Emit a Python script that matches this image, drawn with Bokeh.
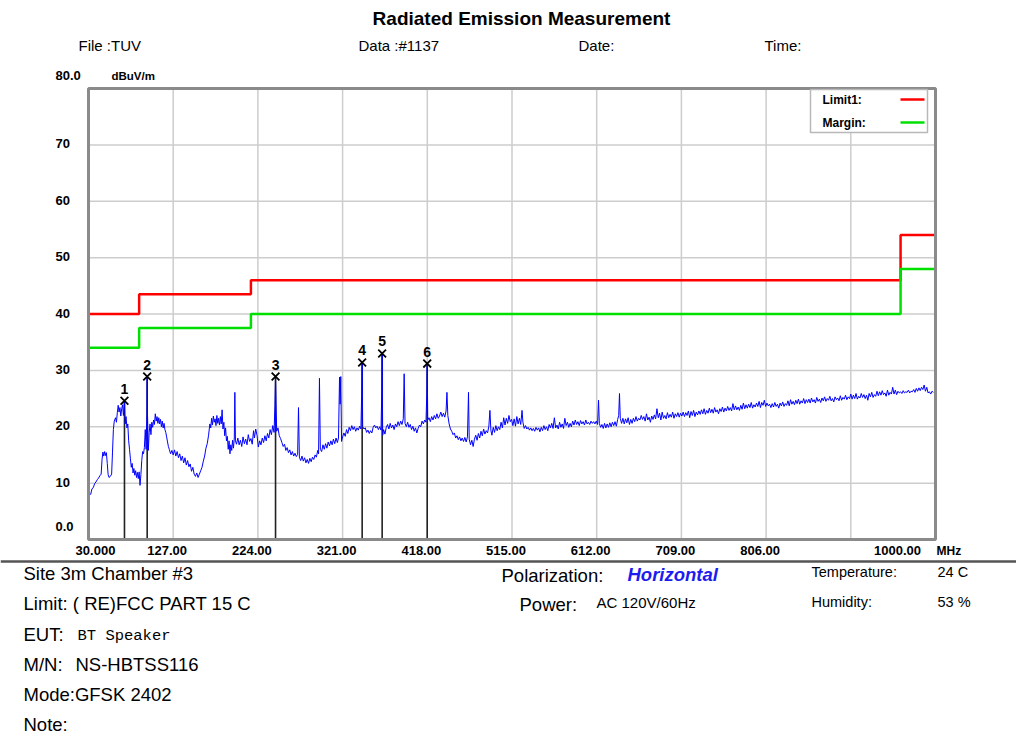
from bokeh.plotting import figure
from bokeh.models import Label, Range1d
from bokeh.core.properties import value
from bokeh.embed import file_html
from bokeh.resources import INLINE

# ---------------- data (MHz, dBuV/m) ----------------
seg_a = [(30, 7.4), (31, 8.2), (32.5, 8.0), (34, 9.0), (35.5, 9.2), (37, 9.9), (38.5, 10.2), (40, 10.6),
         (41.5, 10.9), (43, 11.3), (44.5, 11.6), (45.5, 14.2), (46.5, 15.5), (47.5, 14.8), (48.5, 15.6),
         (49.5, 14.9), (50.5, 15.4), (51.5, 13.5), (52.5, 11.5), (53.5, 11.0), (55, 11.2), (56.5, 11.6),
         (57.5, 15.5), (58.5, 19.5), (59.5, 21.0), (61, 21.6), (62, 20.8), (63, 22.5), (64, 23.8), (65, 22.6),
         (66, 23.4), (67, 21.9), (68, 23.2), (69, 23.9), (70, 22.0), (71.2, 24.6), (72, 20.5), (73, 21.8),
         (74, 19.8), (75, 20.5), (76, 17.5), (77, 16.0), (78, 14.3), (79, 12.8), (80, 13.5), (81, 11.8),
         (82, 12.6), (83, 11.4), (84, 12.2), (85, 11.0), (86, 11.9), (87, 10.8), (88, 12.0), (89, 9.6),
         (90, 11.5), (91, 14.0), (92, 15.6), (93, 15.2), (94, 16.3), (95, 19.5), (96, 16.0), (96.8, 22.2),
         (97.2, 28.9), (97.6, 22.0), (98.5, 15.8), (99.5, 19.0)]

seg_b = [(100.5, 20.5), (101.5, 18.6), (102.5, 20.8), (103.5, 19.9), (104.5, 21.2), (105.5, 20.4), (106.5, 22.3),
         (107.5, 21.0), (108.5, 21.8), (109.5, 20.6), (110.5, 21.6), (111.5, 20.5), (112.5, 21.3), (113.5, 20.0),
         (114.5, 21.0), (115.5, 19.8), (116.5, 20.6), (117.5, 19.5), (118.5, 19.0), (119.5, 18.2), (120.5, 17.3),
         (121.5, 16.5), (122.5, 16.0), (124, 15.2), (125.5, 15.8), (127, 15.0), (128.5, 15.9), (130, 14.8),
         (131.5, 15.6), (133, 14.5), (134.5, 15.2), (136, 14.0), (137.5, 14.8), (139, 13.6), (140.5, 14.5),
         (142, 13.2), (143.5, 14.0), (145, 12.9), (146.5, 13.4), (148, 12.1), (149.5, 12.8), (151, 11.6),
         (152.5, 11.2), (154, 11.8), (155.5, 11.0), (157, 11.6), (158.5, 12.2), (160, 12.8), (161.5, 13.9),
         (163, 14.8), (164.5, 16.2), (166, 17.0), (167.5, 18.5), (169, 20.5), (170, 19.8), (171, 21.5),
         (172, 20.3), (173, 21.9), (174, 20.8), (175, 21.4), (176, 20.2), (177, 22.0), (178, 20.6), (179, 21.5),
         (180, 20.3), (181, 21.8), (182, 20.5), (183, 23.0), (184, 19.6), (185, 20.8), (186, 18.4), (187, 19.8),
         (188, 17.5), (189, 18.3), (190, 16.0), (191, 17.5), (192, 15.2), (193, 16.8), (194, 15.8), (195, 17.6),
         (196, 16.2), (197, 18.0), (197.6, 26.1), (198.3, 17.5), (199.5, 16.9), (201, 18.0), (202.5, 16.8),
         (204, 17.6), (205.5, 16.5), (207, 18.2), (208.5, 17.0), (210, 17.8), (211.5, 16.8), (213, 18.6),
         (214.5, 17.4), (216, 17.9), (217.5, 16.9), (219, 19.3), (220, 18.0), (221.5, 19.6), (223, 18.5),
         (224.5, 16.4), (226, 17.5), (227.5, 16.8), (229, 18.0)]

seg_c = [(230.5, 17.2), (232, 18.4), (233.5, 17.5), (235, 18.8), (236.5, 18.0), (238, 19.5), (239.5, 18.6),
         (241, 20.2), (242.5, 19.0), (243.5, 23.8), (244.2, 28.9), (244.8, 24.2), (245.5, 19.2), (247, 19.8),
         (248.5, 18.4), (250, 17.9), (251.5, 17.2), (253, 16.5), (254.5, 16.9), (256, 15.8), (257.5, 16.3),
         (259, 15.4), (260.5, 15.9), (262, 15.0), (263.5, 15.6), (265, 14.8), (266.5, 15.3), (268, 14.7),
         (269.5, 15.1), (270.5, 23.4), (271.5, 14.6), (273, 14.0), (274.5, 14.8), (276, 13.9), (277.5, 14.5),
         (279, 13.6), (280.5, 14.2), (282, 13.5), (283.5, 14.4), (285, 13.8), (286.5, 14.6), (288, 14.2),
         (289.5, 15.0), (291, 14.6), (292.5, 15.8), (293.5, 15.2), (294.5, 28.6), (295.5, 16.0), (297, 15.6),
         (298.5, 16.8), (300, 16.0), (301.5, 17.0), (303, 16.2), (304.5, 17.3), (306, 16.6), (307.5, 17.5),
         (309, 16.8), (310.5, 17.8), (312, 17.0), (313.5, 18.0), (315, 17.2), (316.3, 18.0), (317.5, 28.8),
         (318.2, 24.0), (318.9, 28.9), (319.8, 17.4), (321, 18.2), (322.5, 18.9), (324, 18.3), (325.5, 19.5),
         (327, 18.8), (328.5, 19.9), (330, 19.3), (331.5, 20.2), (333, 19.5), (334.5, 20.0), (336, 19.2),
         (337.5, 19.8), (339, 19.4), (340.5, 20.1), (342, 19.6), (342.8, 25.5), (343.4, 31.4), (344, 20.0),
         (345.5, 19.6), (347, 19.8), (348.5, 19.0), (350, 19.4), (351.5, 18.8), (353, 19.3), (354.5, 18.9),
         (356, 19.9), (357.5, 20.3), (359, 19.8), (360.5, 20.1), (362, 19.5), (363.5, 20.0), (365, 19.4),
         (365.8, 25.8), (366.3, 33.0), (366.9, 18.5), (368, 19.5), (369.5, 18.7), (371, 19.9), (372.5, 20.4),
         (374, 19.6), (375.5, 20.6), (377, 19.8), (378.5, 20.3), (380, 19.5), (381.5, 20.5), (383, 20.0),
         (384.5, 20.9), (386, 20.2), (387.5, 21.0), (389, 20.4), (390.5, 21.4), (391.5, 29.4), (392.5, 20.6),
         (394, 20.0), (395.5, 20.8), (397, 19.9), (398.5, 20.4), (400, 19.5), (401.5, 20.1), (403, 19.2),
         (404.5, 19.8), (406, 18.9), (407.5, 19.7), (409, 20.3), (410.5, 20.0), (412, 21.0), (413.5, 20.5),
         (415, 21.2), (416.5, 20.8), (417.4, 25.8), (417.9, 31.2), (418.5, 21.2), (420, 21.6), (421.5, 20.9),
         (423, 21.8), (424.5, 21.2), (426, 22.0), (427.5, 21.4), (429, 22.3), (430.5, 21.5)]

seg_d = [(432, 21.9), (433.5, 22.6), (435, 21.8), (436.5, 22.4), (438, 21.7), (439.5, 22.8), (440.5, 26.1),
         (441.5, 22.0), (443, 20.5), (444.5, 19.6), (446, 19.2), (447.5, 18.6), (449, 18.9), (450.5, 18.0),
         (452, 18.4), (453.5, 17.7), (455, 18.2), (456.5, 17.5), (458, 18.0), (459.5, 17.4), (461, 18.1),
         (462.5, 17.3), (464, 18.2), (465.2, 26.1), (466, 17.8), (467.5, 16.8), (469, 17.6), (470.5, 16.5),
         (472, 17.8), (473.5, 18.5), (475, 17.6), (476.5, 18.8), (478, 18.0), (479.5, 19.2), (481, 18.4),
         (482.5, 19.6), (484, 18.7), (485.5, 19.3), (487, 18.9), (488.5, 20.1), (489.7, 22.9), (490.8, 19.4),
         (492, 18.5), (493.5, 19.9), (495, 19.0), (496.5, 20.2), (498, 19.3), (499.5, 20.0), (501, 19.5),
         (502.5, 20.8), (504, 19.8), (505.5, 21.6), (507, 20.3), (508.5, 21.5), (510, 20.6), (511.5, 22.0),
         (513, 20.9), (514.5, 21.3), (516, 20.2), (517.5, 21.4), (519, 20.1), (520.5, 21.8), (522, 20.5),
         (523.5, 21.5), (525, 20.4), (526.5, 22.9), (527.5, 20.8), (529, 19.7), (530.5, 20.2), (532, 19.6),
         (533.5, 19.9), (535, 19.4), (536.5, 19.8), (538, 19.3), (539.5, 19.7), (541, 19.2), (542.5, 19.9),
         (544, 19.4), (545.5, 19.8), (547, 19.1), (548.5, 19.9), (550, 19.3), (551.5, 20.2), (553, 19.5),
         (554.5, 20.0), (556, 19.3), (557.5, 20.4), (559, 19.8), (560.5, 20.6), (562, 19.7), (563.5, 21.6),
         (565, 19.8), (566.5, 20.3), (568, 19.6), (569.5, 20.8), (571, 19.9), (572.5, 20.5), (574, 19.7),
         (575.5, 21.5), (577, 20.2), (578.5, 20.8), (580, 19.9), (581.5, 20.6), (583, 20.0), (584.5, 21.0),
         (586, 20.3), (587.5, 21.2), (589, 20.4), (590.5, 20.9), (592, 20.2), (593.5, 21.1), (595, 20.5),
         (596.5, 20.9), (598, 20.3), (599.5, 21.2), (601, 20.5), (602.5, 20.8), (604, 20.4), (605.5, 21.0),
         (607, 20.6), (608.5, 20.9), (610, 20.5)]

seg_e = [(611.5, 21.0), (613, 20.4), (614.1, 24.7), (615, 20.6), (616.5, 19.9), (618, 20.4), (619.5, 19.7),
         (621, 20.6), (622.5, 19.8), (624, 20.5), (625.5, 19.9), (627, 20.7), (628.5, 20.0), (630, 20.8),
         (631.5, 20.2), (633, 20.9), (634.5, 20.1), (636, 21.3), (637.2, 22.0), (638.1, 25.9), (639, 21.5),
         (640.5, 20.6), (642, 21.5), (643.5, 20.5), (645, 21.4), (646.5, 20.7), (648, 21.6), (649.5, 20.4),
         (651, 21.3), (652.5, 20.6), (654, 21.5), (655.5, 20.9), (657, 21.8), (658.5, 21.0), (660, 21.5),
         (661.5, 21.2), (663, 22.0), (664.5, 21.3), (666, 21.8), (667.5, 21.0), (669, 22.3), (670.5, 21.2),
         (672, 21.7), (673.5, 20.8), (675, 21.9), (676.5, 21.3), (678, 22.1), (679.5, 21.4), (681, 23.2),
         (682.5, 21.6), (684, 22.4), (685.5, 21.2), (687, 22.6), (688.5, 21.5), (690, 22.0), (691.5, 21.4),
         (693, 22.5), (694.5, 21.6), (696, 22.2), (697.5, 21.7), (699, 22.6), (700.5, 21.5), (702, 22.3),
         (703.5, 21.8), (705, 22.5), (706.5, 21.7), (708, 22.4), (709.5, 21.9), (711, 22.6), (712.5, 21.8),
         (714, 22.5), (715.5, 22.0), (717, 22.8), (718.5, 21.6), (720, 22.7), (721.5, 22.0), (723, 22.9),
         (724.5, 21.8), (726, 22.6), (727.5, 22.1), (729, 22.8), (730.5, 22.2), (732, 23.0), (733.5, 22.3),
         (735, 23.2), (736.5, 22.2), (738, 22.9), (739.5, 22.4), (741, 23.3), (742.5, 22.5), (744, 23.1),
         (745.5, 22.4), (747, 23.4), (748.5, 22.6), (750, 23.0), (751.5, 22.3), (753, 23.2), (754.5, 22.7),
         (756, 23.5), (757.5, 22.6), (759, 23.3), (760.5, 22.8), (762, 23.6), (763.5, 22.9), (765, 23.4),
         (766.5, 22.8), (768, 24.1), (769.5, 23.0), (771, 23.7), (772.5, 23.0), (774, 23.5), (775.5, 22.9),
         (777, 23.8), (778.5, 23.1), (780, 24.2), (781.5, 23.2), (783, 23.9), (784.5, 23.3), (786, 24.0),
         (787.5, 23.4), (789, 24.3), (790.5, 23.3), (792, 23.9), (793.5, 23.5), (795, 24.2), (796.5, 23.6),
         (798, 24.5), (799.5, 23.4), (801, 24.3), (802.5, 23.8), (804, 24.7), (805.5, 23.6), (807, 24.2),
         (808.5, 23.7), (810, 24.0), (811.5, 23.4), (813, 24.1), (814.5, 23.5), (816, 24.3), (817.5, 23.6),
         (819, 24.0), (820.5, 23.3), (822, 24.2), (823.5, 23.7), (825, 24.4), (826.5, 23.6), (828, 24.1),
         (829.5, 23.8), (831, 24.6), (832.5, 23.7), (834, 24.8), (835.5, 24.0), (837, 24.5), (838.5, 23.9),
         (840, 24.7), (841.5, 24.1), (843, 24.9), (844.5, 24.0), (846, 24.6), (847.5, 24.2), (849, 25.0),
         (850.5, 24.1), (852, 24.8), (853.5, 24.3), (855, 24.9), (856.5, 24.2), (858, 25.1), (859.5, 24.4),
         (861, 24.8), (862.5, 24.2), (864, 25.2), (865.5, 24.5), (867, 24.9), (868.5, 24.3), (870, 25.1),
         (871.5, 24.6), (873, 25.3), (874.5, 24.5), (876, 25.0), (877.5, 24.7), (879, 25.4), (880.5, 24.6),
         (882, 25.0), (883.5, 24.4), (885, 25.3), (886.5, 24.8), (888, 25.1), (889.5, 24.6), (891, 25.5),
         (892.5, 24.7), (894, 25.2), (895.5, 24.9), (897, 25.6), (898.5, 24.8), (900, 25.3), (901.5, 25.0),
         (903, 25.8), (904.5, 24.9), (906, 25.6), (907.5, 25.0), (909, 25.9), (910.5, 24.9), (912, 25.4),
         (913.5, 25.1), (915, 25.9), (916.5, 25.2), (918, 25.7), (919.5, 25.0), (921, 25.6), (922.5, 24.7),
         (924, 25.9), (925.5, 25.3), (927, 26.1), (928.5, 25.2), (930, 25.7), (931.5, 25.4), (933, 26.3),
         (934.5, 25.5), (936, 26.2), (937.5, 25.6), (939, 26.4), (940.5, 25.7), (942, 26.0), (943.5, 25.4),
         (945, 26.5), (946.5, 25.6), (948, 26.1), (949.5, 25.8), (951, 27.0), (952.5, 25.8), (954, 26.5),
         (955.5, 25.7), (957, 26.3), (958.5, 26.0), (960, 26.2), (961.5, 25.9), (963, 26.4), (964.5, 26.0),
         (966, 26.2), (967.5, 26.1), (969, 26.5), (970.5, 26.0), (972, 26.3), (973.5, 26.2), (975, 26.6),
         (976.5, 26.1), (978, 26.8), (979.5, 26.3), (981, 26.9), (982.5, 26.4), (984, 27.0), (985.5, 26.6),
         (987, 27.4), (988.5, 26.3), (990, 27.0), (991.5, 26.0), (993, 26.2), (994.5, 25.8), (996, 26.3),
         (997.5, 26.1)]

limit_freq = [30, 88, 216, 960, 1000]
limit_level = [40, 43.5, 46, 54, 54]
margin_level = [34, 37.5, 40, 48, 48]

marker_freq = [71.2, 97.2, 244.2, 343.4, 366.3, 417.9]
marker_level = [24.6, 28.9, 28.9, 31.4, 33.0, 31.2]
marker_names = ["1", "2", "3", "4", "5", "6"]

xtick_values = [30, 127, 224, 321, 418, 515, 612, 709, 806, 1000]
xtick_labels = ["30.000", "127.00", "224.00", "321.00", "418.00", "515.00", "612.00", "709.00", "806.00", "1000.00"]
xgrid_values = [127, 224, 321, 418, 515, 612, 709, 806, 903]
ytick_values = [0, 10, 20, 30, 40, 50, 60, 70, 80]
ytick_labels = ["0.0", "10", "20", "30", "40", "50", "60", "70", "80.0"]

spectrum = seg_a + seg_b + seg_c + seg_d + seg_e
freq = [f for f, _ in spectrum]
level = [v for _, v in spectrum]

# ---------------- layout ----------------
W, H = 1016, 735
X0, X1, Y0, Y1 = 30, 1000, 0, 80
FONT = "Liberation Sans"

# page canvas in pixel units (y downward); the chart lives in a sub-coordinate system
p = figure(width=W, height=H, x_range=Range1d(0, W), y_range=Range1d(H, 0),
           x_axis_type=None, y_axis_type=None, toolbar_location=None,
           output_backend="svg", min_border=0)
p.outline_line_color = None
p.background_fill_color = "white"
p.border_fill_color = "white"
p.xgrid.visible = False
p.ygrid.visible = False

c = p.subplot(x_source=Range1d(X0, X1), y_source=Range1d(Y0, Y1),
              x_target=Range1d(88, 935), y_target=Range1d(539, 88))

# grid
c.segment(x0=xgrid_values, x1=xgrid_values, y0=[Y0] * len(xgrid_values), y1=[Y1] * len(xgrid_values),
          line_color="#cdcdcd", line_width=1.5)
yg = ytick_values[1:-1]
c.segment(x0=[X0] * len(yg), x1=[X1] * len(yg), y0=yg, y1=yg, line_color="#cdcdcd", line_width=1.5)

# limit lines
c.step(limit_freq, limit_level, mode="after", line_color="#ff0000", line_width=2.5)
c.step(limit_freq, margin_level, mode="after", line_color="#00e000", line_width=2.5)

# marker drop lines
c.segment(x0=marker_freq, y0=[Y0] * len(marker_freq), x1=marker_freq, y1=marker_level,
          line_color="#222222", line_width=1.6)

# spectrum
c.line(freq, level, line_color="#0000ff", line_width=1)

# markers
c.scatter(marker_freq, marker_level, marker="x", size=11, line_color="black", line_width=1.8)
c.text(x=marker_freq, y=marker_level, text=marker_names, y_offset=-12, text_align="center",
       text_baseline="middle", text_font=value(FONT), text_font_size="14px",
       text_font_style="bold", text_color="black")

# frame
c.quad(left=[X0], right=[X1], bottom=[Y0], top=[Y1], fill_alpha=0, line_color="#8a8a8a", line_width=3)

# tick labels
xoff = [7 if v == X0 else (-38 if v == X1 else -6) for v in xtick_values]
c.text(x=xtick_values, y=[Y0] * len(xtick_values), text=xtick_labels, x_offset=xoff, y_offset=11,
       text_align="center", text_baseline="middle", text_font=value(FONT), text_font_size="13px",
       text_font_style="bold", text_color="black")
yoff = [-13 if v in (Y0, Y1) else -1 for v in ytick_values]
c.text(x=[X0] * len(ytick_values), y=ytick_values, text=ytick_labels, x_offset=-33, y_offset=yoff,
       text_align="left", text_baseline="middle", text_font=value(FONT), text_font_size="13px",
       text_font_style="bold", text_color="black")
c.text(x=[X0], y=[Y1], text=["dBuV/m"], x_offset=23, y_offset=-13, text_align="left",
       text_baseline="middle", text_font=value(FONT), text_font_size="11.5px",
       text_font_style="bold", text_color="black")
c.text(x=[X1], y=[Y0], text=["MHz"], x_offset=1, y_offset=11, text_align="left",
       text_baseline="middle", text_font=value(FONT), text_font_size="12px",
       text_font_style="bold", text_color="black")

# legend
p.quad(left=[810], right=[927], top=[89], bottom=[132], fill_color="white",
       line_color="#b8b8b8", line_width=1.5)
p.segment(x0=[900, 900], x1=[924, 924], y0=[99, 122], y1=[99, 122],
          line_color=["#ff0000", "#00e000"], line_width=2.5)


def lab(text, x, y, size, style="normal", color="black", font=FONT, align="left"):
    p.add_layout(Label(x=x, y=y, text=text, text_font=font, text_font_size=f"{size}px",
                       text_font_style=style, text_color=color, text_align=align,
                       text_baseline="middle"))


lab("Limit1:", 822, 99, 12, "bold")
lab("Margin:", 822, 122, 12, "bold")

# header
lab("Radiated Emission Measurement", 521, 18, 19, "bold", align="center")
lab("File :TUV", 78, 45, 15)
lab("Data :#1137", 358, 45, 15)
lab("Date:", 578, 45, 15)
lab("Time:", 764, 45, 15)

# separator
p.segment(x0=[0], x1=[W], y0=[561], y1=[561], line_color="#555555", line_width=2.5)

# footer info
lab("Site  3m Chamber #3", 23, 573, 18.5)
lab("Limit: ( RE)FCC PART 15 C", 23, 603, 18.5)
lab("EUT:", 23, 634, 18.5)
lab("BT Speaker", 77, 635, 15.5, font="Liberation Mono")
lab("M/N:", 23, 664, 18.5)
lab("NS-HBTSS116", 75, 664, 18.5)
lab("Mode:GFSK 2402", 23, 694, 18.5)
lab("Note:", 23, 724, 18.5)

lab("Polarization:", 501, 575, 18.5)
lab("Horizontal", 627, 574, 18.5, "bold italic", color="#1c1cf0")
lab("Power:", 519, 604, 18.5)
lab("AC 120V/60Hz", 596, 602, 15)

lab("Temperature:", 811, 571, 14.5)
lab("24 C", 937, 571, 14.5)
lab("Humidity:", 811, 601, 14.5)
lab("53 %", 937, 601, 14.5)

open("out.html", "w").write(file_html(p, INLINE))
